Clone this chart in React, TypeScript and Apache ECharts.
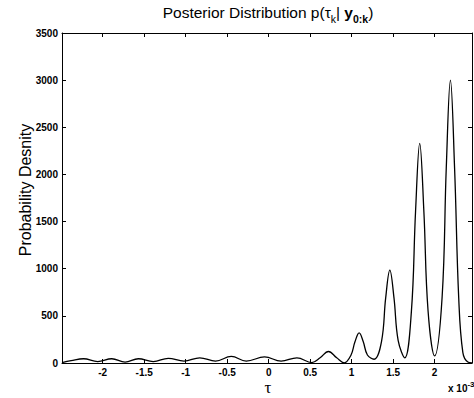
import { useEffect, useRef } from "react";
import * as echarts from "echarts";

// tau in units of 1e-3
const tauValues = [
  -2.49, -2.38, -2.23, -2.06, -1.89, -1.73, -1.57, -1.39, -1.21, -1.02,
  -0.83, -0.64, -0.45, -0.27, -0.05, 0.15, 0.34, 0.52, 0.62, 0.72,
  0.82, 0.91, 0.99, 1.04, 1.09, 1.14, 1.19, 1.27, 1.36, 1.41,
  1.46, 1.51, 1.56, 1.64, 1.72, 1.77, 1.82, 1.87, 1.92, 2.0,
  2.09, 2.14, 2.19, 2.24, 2.29, 2.34, 2.4, 2.45,
];
const densityValues = [
  5, 25, 45, 15, 45, 10, 45, 15, 50, 20,
  55, 20, 70, 20, 65, 20, 55, 5, 55, 122,
  55, 2, 80, 225, 320, 225, 85, 40, 230, 690,
  985, 690, 240, 55, 550, 1610, 2330, 1610, 560, 75,
  700, 2070, 3000, 2070, 690, 110, 10, 2,
];
const xTickValues = [-2, -1.5, -1, -0.5, 0, 0.5, 1, 1.5, 2];
const xMin = -2.49;
const xMax = 2.45;
const yMin = 0;
const yMax = 3500;
const yStep = 500;

const titleText =
  "{n|Posterior Distribution p(τ}{s|k}{n|| }{b|y}{sb|0:k}{n|)}";
const yName = "Probability Desnity";
const xName = "τ";
const xScaleNote = "{n|x 10}{p|-3}";

const FONT = "Liberation Sans, Arial, Helvetica, sans-serif";

export default function App() {
  const ref = useRef<HTMLDivElement>(null);
  useEffect(() => {
    document.body.style.margin = "0";
    const chart = echarts.init(ref.current!, null, { renderer: "svg" });
    const data = tauValues.map((t, i) => [t, densityValues[i]]);
    const tickStyle = { inside: true, length: 4, lineStyle: { color: "#000", width: 1 } };
    chart.setOption({
      animation: false,
      backgroundColor: "#fff",
      grid: { left: 62, right: 2, top: 33, bottom: 35, containLabel: false },
      xAxis: [
        {
          type: "value",
          min: xMin,
          max: xMax,
          position: "bottom",
          axisLine: { onZero: false, lineStyle: { color: "#000", width: 1 } },
          axisTick: { ...tickStyle, customValues: xTickValues },
          axisLabel: {
            customValues: xTickValues,
            color: "#000",
            fontFamily: FONT,
            fontSize: 10,
            fontWeight: "bold",
            margin: 4,
            formatter: (v: number) => String(v),
          },
          splitLine: { show: false },
        },
        {
          type: "value",
          min: xMin,
          max: xMax,
          position: "top",
          axisLine: { onZero: false, lineStyle: { color: "#000", width: 1 } },
          axisTick: { ...tickStyle, customValues: xTickValues },
          axisLabel: { show: false },
          splitLine: { show: false },
        },
      ],
      yAxis: [
        {
          type: "value",
          min: yMin,
          max: yMax,
          interval: yStep,
          position: "left",
          axisLine: { show: true, onZero: false, lineStyle: { color: "#000", width: 1 } },
          axisTick: { show: true, ...tickStyle },
          axisLabel: {
            color: "#000",
            fontFamily: FONT,
            fontSize: 10,
            fontWeight: "bold",
            margin: 4,
            formatter: (v: number) => String(v),
          },
          splitLine: { show: false },
        },
        {
          type: "value",
          min: yMin,
          max: yMax,
          interval: yStep,
          position: "right",
          axisLine: { show: true, onZero: false, lineStyle: { color: "#000", width: 1 } },
          axisTick: { show: true, ...tickStyle },
          axisLabel: { show: false },
          splitLine: { show: false },
        },
      ],
      series: [
        {
          type: "line",
          data,
          xAxisIndex: 0,
          yAxisIndex: 0,
          smooth: 0.4,
          showSymbol: false,
          lineStyle: { color: "#000", width: 1.3 },
        },
      ],
      graphic: [
        {
          type: "text",
          x: 268,
          y: 12,
          style: {
            text: titleText,
            align: "center",
            verticalAlign: "middle",
            fill: "#000",
            rich: {
              n: { fontFamily: FONT, fontSize: 15.5, fill: "#000", color: "#000" },
              b: { fontFamily: FONT, fontSize: 15.5, fontWeight: "bold", fill: "#000", color: "#000" },
              s: { fontFamily: FONT, fontSize: 10.5, fill: "#000", color: "#000", padding: [14, 0, 0, 0] },
              sb: { fontFamily: FONT, fontSize: 10.5, fontWeight: "bold", fill: "#000", color: "#000", padding: [14, 0, 0, 0] },
            },
          },
        },
        {
          type: "text",
          x: 25,
          y: 190,
          rotation: Math.PI / 2,
          style: {
            text: yName,
            align: "center",
            verticalAlign: "middle",
            fill: "#000",
            font: `16px ${FONT}`,
          },
        },
        {
          type: "text",
          x: 268,
          y: 387,
          style: {
            text: xName,
            align: "center",
            verticalAlign: "middle",
            fill: "#000",
            font: `17px Liberation Serif, serif`,
          },
        },
        {
          type: "text",
          x: 448,
          y: 388,
          style: {
            text: xScaleNote,
            align: "left",
            verticalAlign: "middle",
            fill: "#000",
            rich: {
              n: { fontFamily: FONT, fontSize: 10, fontWeight: "bold", fill: "#000", color: "#000" },
              p: { fontFamily: FONT, fontSize: 8, fontWeight: "bold", fill: "#000", color: "#000", padding: [0, 0, 8, 0] },
            },
          },
        },
      ],
    });
    return () => chart.dispose();
  }, []);
  return <div ref={ref} style={{ width: 474, height: 398 }} />;
}
